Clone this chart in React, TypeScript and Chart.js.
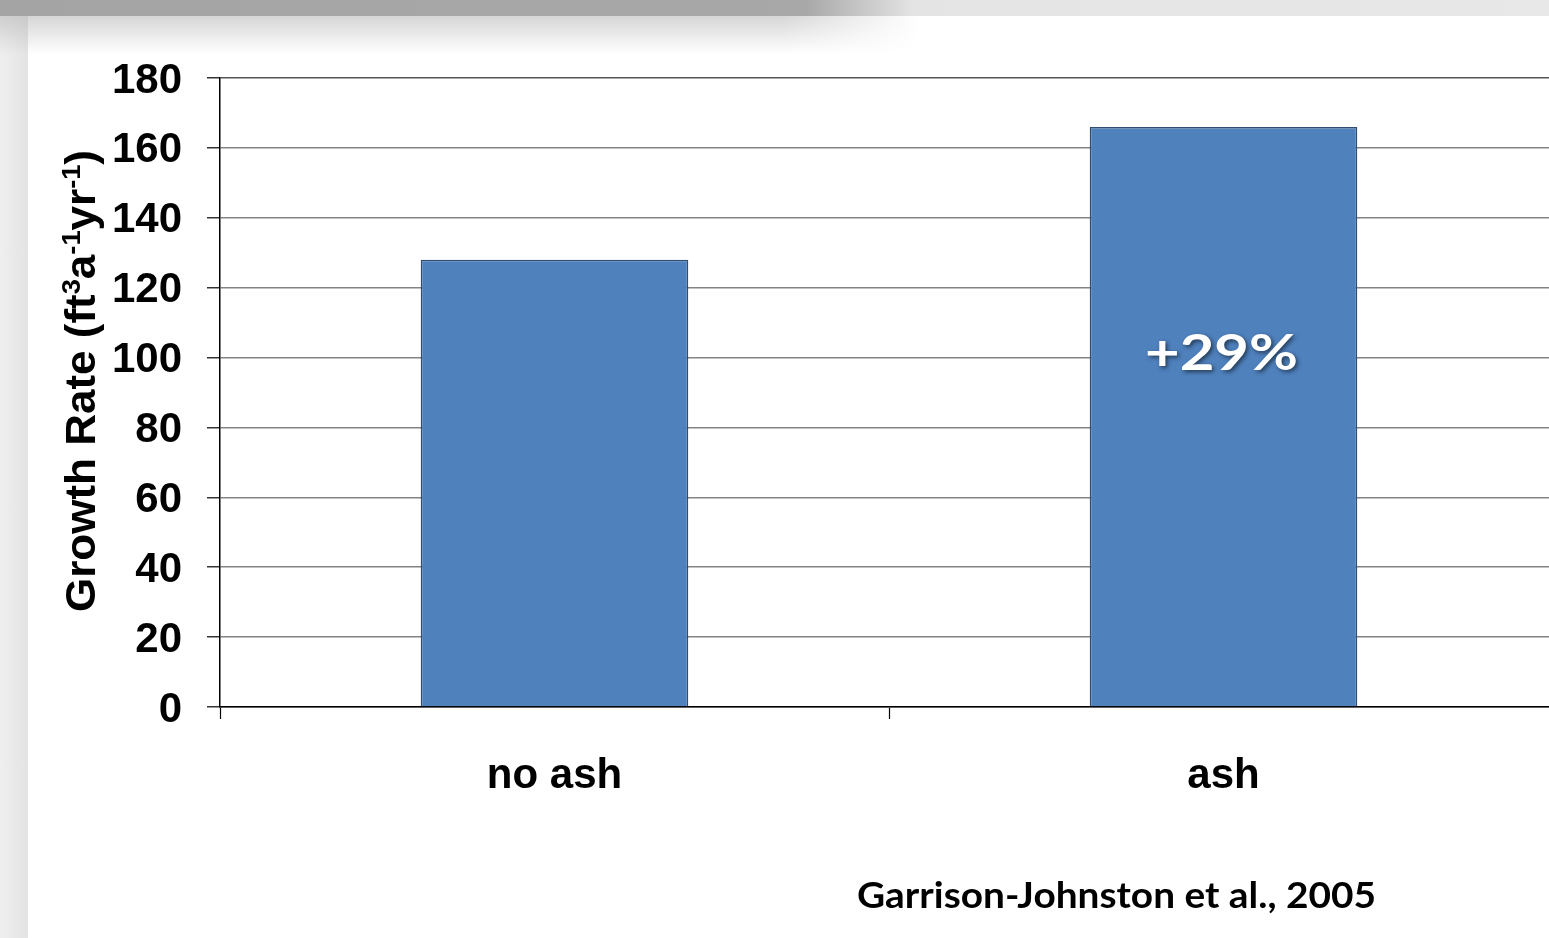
import React, { useEffect, useRef } from "react";
import { Chart, registerables } from "chart.js";

Chart.register(...registerables);

const categories: string[] = ["no ash", "ash"];
const growthRate: number[] = [128, 166];
const yTicks: number[] = [0, 20, 40, 60, 80, 100, 120, 140, 160, 180];
const yMin = 0;
const yMax = 180;
const barLabel = "+29%";
const barLabelIndex = 1;
const barLabelValue = 101;
const yTitleParts: { t: string; sup: boolean }[] = [
  { t: "Growth Rate (ft", sup: false },
  { t: "3", sup: true },
  { t: "a", sup: false },
  { t: "-1", sup: true },
  { t: "yr", sup: false },
  { t: "-1", sup: true },
  { t: ")", sup: false },
];
const sourceNote = "Garrison-Johnston et al., 2005";

const CANVAS_W = 1570;
const CANVAS_H = 938;

function drawFit(
  ctx: CanvasRenderingContext2D,
  text: string,
  x: number,
  y: number,
  targetWidth: number,
  align: "left" | "center"
) {
  const w = ctx.measureText(text).width;
  const s = targetWidth / w;
  ctx.save();
  ctx.translate(x, y);
  ctx.scale(s, 1);
  ctx.textAlign = "left";
  const startX = align === "center" ? -w / 2 : 0;
  ctx.fillText(text, startX, 0);
  ctx.restore();
}

const textPlugin = {
  id: "customText",
  afterDatasetsDraw(chart: any) {
    const ctx: CanvasRenderingContext2D = chart.ctx;
    const xs = chart.scales.x;
    const ys = chart.scales.y;

    ctx.save();
    ctx.font = "bold 50px Lato, 'Open Sans', sans-serif";
    ctx.fillStyle = "#ffffff";
    ctx.textBaseline = "middle";
    ctx.shadowColor = "rgba(0,0,0,0.55)";
    ctx.shadowBlur = 4;
    ctx.shadowOffsetX = 2;
    ctx.shadowOffsetY = 2;
    drawFit(
      ctx,
      barLabel,
      xs.getPixelForValue(barLabelIndex) - 2,
      ys.getPixelForValue(barLabelValue),
      153,
      "center"
    );
    ctx.restore();
  },
  afterDraw(chart: any) {
    const ctx: CanvasRenderingContext2D = chart.ctx;

    ctx.save();
    const big = 42;
    const small = 26;
    const fBig = `bold ${big}px 'Liberation Sans', Arial, sans-serif`;
    const fSmall = `bold ${small}px 'Liberation Sans', Arial, sans-serif`;
    let total = 0;
    const widths: number[] = [];
    for (const p of yTitleParts) {
      ctx.font = p.sup ? fSmall : fBig;
      const w = ctx.measureText(p.t).width;
      widths.push(w);
      total += w;
    }
    const target = 462;
    const s = target / total;
    ctx.translate(95, 381);
    ctx.rotate(-Math.PI / 2);
    ctx.scale(s, 1);
    ctx.fillStyle = "#000";
    ctx.textBaseline = "alphabetic";
    ctx.textAlign = "left";
    let cx = -total / 2;
    yTitleParts.forEach((p, i) => {
      ctx.font = p.sup ? fSmall : fBig;
      ctx.fillText(p.t, cx, p.sup ? -15 : 0);
      cx += widths[i];
    });
    ctx.restore();

    ctx.save();
    ctx.font = "bold 36px Lato, 'Open Sans', sans-serif";
    ctx.fillStyle = "#000";
    ctx.textBaseline = "alphabetic";
    drawFit(ctx, sourceNote, 857, 908, 519, "left");
    ctx.restore();
  },
};

export default function App() {
  const ref = useRef<HTMLCanvasElement | null>(null);

  useEffect(() => {
    const canvas = ref.current;
    if (!canvas) return;
    const chart = new Chart(canvas, {
      type: "bar",
      data: {
        labels: categories,
        datasets: [
          {
            data: growthRate,
            backgroundColor: "#4f81bd",
            borderColor: "#2f4d72",
            borderWidth: 1.5,
            barPercentage: 0.4,
            categoryPercentage: 1,
          },
        ],
      },
      options: {
        responsive: false,
        animation: false,
        devicePixelRatio: 1,
        layout: { padding: { left: 0, top: 78, right: CANVAS_W - 1558, bottom: 0 } },
        plugins: {
          legend: { display: false },
          tooltip: { enabled: false },
          title: { display: false },
        },
        scales: {
          x: {
            offset: true,
            grid: {
              display: true,
              offset: true,
              drawOnChartArea: false,
              tickLength: 12,
              tickColor: "#000",
              tickWidth: 1.2,
            },
            border: { display: true, color: "#000", width: 1.5 },
            ticks: {
              color: "#000",
              padding: 32,
              font: { family: "'Liberation Sans', Arial, sans-serif", size: 42, weight: "bold" },
            },
            afterFit: (scale: any) => {
              scale.height = CANVAS_H - 707;
            },
          },
          y: {
            min: yMin,
            max: yMax,
            afterBuildTicks: (scale: any) => {
              scale.ticks = yTicks.map((v) => ({ value: v }));
            },
            grid: {
              color: (c: any) => (c.tick && c.tick.value === yMax ? "#555555" : "#838383"),
              lineWidth: 1.6,
              tickLength: 13,
              tickColor: "#000",
              tickWidth: 1.2,
            },
            border: { display: true, color: "#000", width: 1.5 },
            ticks: {
              color: "#000",
              padding: 25,
              labelOffset: 3,
              font: { family: "'Liberation Sans', Arial, sans-serif", size: 42, weight: "bold" },
            },
            afterFit: (scale: any) => {
              scale.width = 220;
            },
          },
        },
      },
      plugins: [textPlugin],
    });
    return () => chart.destroy();
  }, []);

  return (
    <div
      style={{
        position: "fixed",
        left: 0,
        top: 0,
        width: 1549,
        height: 938,
        overflow: "hidden",
        background: "#ffffff",
      }}
    >
      <div
        style={{
          position: "absolute",
          left: 0,
          top: 0,
          width: 28,
          height: 938,
          background: "linear-gradient(to right, #efefef, #e3e3e3)",
        }}
      />
      <div
        style={{
          position: "absolute",
          left: 0,
          top: 16,
          width: 920,
          height: 38,
          background: "linear-gradient(to bottom, rgba(180,180,180,0.55), rgba(255,255,255,0))",
          WebkitMaskImage: "linear-gradient(to right, black 85%, transparent 100%)",
          maskImage: "linear-gradient(to right, black 85%, transparent 100%)",
        }}
      />
      <div
        style={{
          position: "absolute",
          left: 0,
          top: 0,
          width: 1549,
          height: 16,
          background:
            "linear-gradient(to right, #a4a4a4 0%, #a8a8a8 52%, #e4e4e4 59%, #e8e8e8 100%)",
        }}
      />
      <canvas
        ref={ref}
        width={CANVAS_W}
        height={CANVAS_H}
        style={{ position: "absolute", left: 0, top: 0, width: CANVAS_W, height: CANVAS_H }}
      />
    </div>
  );
}
